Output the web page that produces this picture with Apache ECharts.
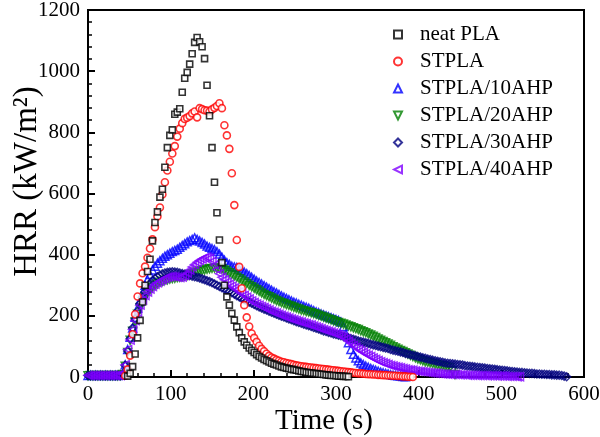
<!DOCTYPE html>
<html>
<head>
<meta charset="utf-8">
<script src="https://cdn.jsdelivr.net/npm/echarts@6/dist/echarts.min.js"></script>
<style>
html, body { margin: 0; padding: 0; background: #fff; }
#main { width: 600px; height: 437px; }
</style>
</head>
<body>
<div id="main"></div>
<script>
// series names (legend order)
var names = ['neat PLA', 'STPLA', 'STPLA/10AHP', 'STPLA/20AHP', 'STPLA/30AHP', 'STPLA/40AHP'];

// HRR readings, one value every 3 s starting at the given time
var neatStart = 48;
var neatHRR = [3, 12, 34, 75, 128, 185, 245, 300, 345, 385, 445, 505, 540, 588, 614, 686, 750, 790, 808, 859,
	866, 877, 931, 977, 996, 1023, 1057, 1094, 1110, 1096, 1080, 1041, 954, 854, 750, 637, 537, 448, 374, 300,
	262, 235, 208, 186, 164, 145, 128, 115, 104, 95, 87, 80, 73, 67, 62, 57, 53, 49, 45, 42,
	39, 36, 33, 31, 29, 27, 25, 24, 22, 20, 18, 17, 15, 14, 13, 12, 11, 10, 9, 8,
	7, 6, 5, 5, 4, 3, 3, 2, 2, 1];

var stplaStart = 45;
var stplaHRR = [4, 25, 70, 140, 205, 263, 306, 339, 361, 390, 420, 450, 490, 525, 554, 597, 637, 675, 704, 731,
	755, 786, 812, 830, 844, 848, 853, 862, 868, 849, 879, 876, 872, 871, 868, 875, 880, 886, 895, 879,
	823, 790, 746, 666, 562, 448, 360, 290, 235, 195, 165, 142, 128, 115, 102, 92, 84, 76, 69, 64,
	60, 56, 53, 50, 48, 46, 44, 42, 40, 38, 37, 35, 34, 33, 32, 31, 30, 29, 28, 27,
	26, 25, 24, 23, 22, 21, 20, 19, 18, 17, 16, 15, 14, 13, 12, 12, 11, 10, 9, 9,
	8, 8, 7, 7, 6, 6, 5, 5, 4, 4, 3, 3, 2, 2, 1, 1, 0];

var ahp10Start = 0;
var ahp10HRR = [5, 6, 5, 6, 5, 6, 5, 6, 5, 6, 5, 6, 5, 6, 10,
	40, 90, 130, 160, 195, 225, 250, 275, 300, 318, 335, 350, 362, 372, 380, 388, 395, 400, 405, 410,
	414, 418, 424, 430, 436, 442, 446, 450, 455, 450, 445, 440, 435, 428, 424, 420, 416, 410, 402, 392,
	382, 374, 368, 362, 360, 358, 353, 348, 343, 338, 332, 326, 320, 314, 309, 304, 299, 294, 289, 284,
	279, 275, 270, 265, 261, 257, 253, 249, 245, 242, 238, 235, 231, 228, 225, 221, 217, 213, 210, 206,
	203, 200, 197, 194, 191, 188, 185, 180, 165, 140, 112, 90, 74, 62, 53, 46, 41, 36, 32, 28,
	25, 22, 19, 16, 14, 12, 10, 8, 6, 5, 4, 3, 2, 1];

var ahp20Start = 0;
var ahp20HRR = [4, 5, 4, 5, 4, 5, 4, 5, 4, 5, 4, 5, 4, 5, 8,
	35, 80, 120, 150, 180, 205, 225, 245, 262, 275, 285, 293, 300, 305, 310, 313, 316, 318, 320, 322,
	323, 325, 326, 328, 330, 332, 335, 338, 340, 343, 346, 348, 350, 352, 354, 355, 356, 356, 355, 353,
	350, 346, 341, 336, 331, 326, 321, 316, 311, 306, 300, 295, 290, 285, 280, 275, 270, 266, 262, 258,
	254, 250, 247, 243, 240, 237, 234, 231, 228, 225, 222, 219, 217, 214, 212, 210, 207, 205, 202, 199,
	196, 193, 190, 187, 184, 181, 178, 176, 173, 170, 167, 164, 161, 158, 155, 151, 148, 145, 141, 137,
	133, 129, 124, 120, 116, 112, 108, 104, 99, 95, 91, 87, 83, 79, 75, 71, 67, 63, 59, 56,
	53, 50, 48, 46, 44, 42, 40, 38, 37, 35, 33, 30, 20, 8];

var ahp30Start = 0;
var ahp30HRR = [5, 4, 5, 4, 5, 4, 5, 4, 5, 4, 5, 4, 5, 4, 9,
	38, 85, 125, 160, 190, 215, 240, 260, 278, 292, 305, 315, 322, 328, 333, 337, 340, 342, 343, 344,
	343, 342, 340, 338, 336, 334, 332, 330, 328, 326, 324, 321, 318, 315, 312, 308, 304, 300, 296, 292,
	288, 284, 280, 276, 271, 266, 262, 257, 253, 249, 245, 241, 237, 233, 229, 226, 222, 219, 215, 212,
	209, 205, 202, 199, 196, 193, 190, 187, 184, 181, 178, 176, 173, 170, 168, 165, 162, 160, 157, 154,
	151, 149, 146, 144, 141, 139, 137, 135, 133, 130, 128, 126, 123, 121, 118, 116, 114, 112, 110, 107,
	105, 103, 101, 99, 97, 95, 93, 90, 88, 86, 84, 82, 80, 77, 75, 73, 71, 69, 67, 65,
	63, 61, 59, 57, 55, 53, 51, 50, 48, 46, 45, 44, 43, 42, 41, 40, 39, 37, 36, 35,
	34, 33, 32, 31, 30, 29, 28, 27, 26, 25, 24, 23, 22, 21, 20, 19, 18, 17, 16, 15,
	15, 14, 13, 12, 12, 11, 10, 10, 9, 9, 8, 8, 7, 7, 6, 6, 5, 3, 1];

var ahp40Start = 0;
var ahp40HRR = [6, 5, 6, 5, 6, 5, 6, 5, 6, 5, 6, 5, 6, 5, 12,
	40, 90, 121, 155, 185, 212, 235, 252, 266, 278, 288, 296, 303, 308, 313, 318, 322, 326, 328, 329,
	328, 326, 325, 327, 332, 340, 350, 360, 368, 375, 381, 386, 390, 392, 388, 378, 366, 352, 338, 326,
	318, 310, 303, 297, 291, 285, 279, 273, 267, 261, 255, 249, 244, 239, 235, 231, 227, 223, 219, 215,
	212, 209, 205, 202, 199, 196, 193, 190, 187, 185, 182, 180, 177, 175, 172, 170, 167, 164, 161, 158,
	155, 152, 150, 147, 144, 141, 138, 135, 130, 124, 117, 110, 103, 97, 91, 86, 81, 76, 71, 67,
	62, 58, 54, 50, 47, 44, 41, 38, 36, 34, 32, 30, 28, 26, 24, 23, 22, 20, 19, 18,
	17, 16, 15, 14, 13, 12, 12, 11, 10, 10, 9, 9, 8, 8, 8, 7, 7, 7, 6, 6,
	6, 6, 5, 5, 5, 5, 4, 4, 4, 4, 3, 3, 3, 3, 2, 2, 2, 2, 1, 1];

var xTicks = [0, 100, 200, 300, 400, 500, 600];
var yTicks = [0, 200, 400, 600, 800, 1000, 1200];

var colors = ['#000000', '#ff0000', '#0000ff', '#008000', '#000080', '#8000ff'];

// time/value pairs for a fixed 3 s sampling
function pairs(start, vals){
	return vals.map(function(v, i){ return [start + i * 3, v]; });
}

var myChart = echarts.init(document.getElementById('main'), null, {renderer: 'canvas'});

var serif = 'Liberation Serif';

function ahpSeries(idx, sym, start, vals, z){
	return {
		name: names[idx],
		type: 'scatter',
		symbol: sym,
		symbolSize: 8,
		z: z,
		data: pairs(start, vals),
		itemStyle: { color: 'rgba(255,255,255,0)', borderColor: colors[idx], borderWidth: 1.5 },
		emphasis: { disabled: true }
	};
}

// tick label, drawn through a rich style so the serif face is kept
var tickLabel = {
	margin: 7,
	formatter: function(v){ return '{t|' + v + '}'; },
	rich: { t: { fontFamily: serif, fontSize: 21, color: '#000' } }
};

var option = {
	animation: false,
	textStyle: { fontFamily: serif, color: '#000' },
	grid: {
		left: 88, right: 16, top: 10, bottom: 60,
		containLabel: false, outerBoundsMode: 'none',
		show: true, borderColor: '#000', borderWidth: 2
	},
	legend: {
		orient: 'vertical',
		left: 393,
		top: 24,
		padding: 0,
		itemGap: 6,
		itemWidth: 8,
		itemHeight: 8,
		data: names,
		textStyle: { fontFamily: serif, fontSize: 21, color: '#000', lineHeight: 21, padding: [0, 0, 0, 13] }
	},
	xAxis: {
		type: 'value',
		min: xTicks[0],
		max: xTicks[xTicks.length - 1],
		interval: 100,
		name: 'Time (s)',
		nameLocation: 'middle',
		nameGap: 30,
		nameMoveOverlap: false,
		nameTextStyle: { fontFamily: serif, fontSize: 29, color: '#000', padding: [0, 24, 0, 0] },
		axisLine: { lineStyle: { color: '#000', width: 2 } },
		axisTick: { inside: true, length: 7, lineStyle: { width: 2 } },
		minorTick: { show: true, splitNumber: 5, length: 4, lineStyle: { color: '#000', width: 1.5 } },
		splitLine: { show: false },
		axisLabel: tickLabel
	},
	yAxis: {
		type: 'value',
		min: yTicks[0],
		max: yTicks[yTicks.length - 1],
		interval: 200,
		name: 'HRR (kW/m²)',
		nameLocation: 'middle',
		nameGap: 44,
		nameMoveOverlap: false,
		nameTextStyle: { fontFamily: serif, fontSize: 33, color: '#000', padding: [0, 0, 0, 24] },
		axisLine: { lineStyle: { color: '#000', width: 2 } },
		axisTick: { inside: true, length: 7, lineStyle: { width: 2 } },
		minorTick: { show: true, splitNumber: 5, length: 4, lineStyle: { color: '#000', width: 1.5 } },
		splitLine: { show: false },
		axisLabel: { margin: 8, formatter: tickLabel.formatter, rich: tickLabel.rich }
	},
	series: [
		{
			name: names[0], type: 'scatter', symbol: 'rect', symbolSize: 6, z: 8,
			data: pairs(neatStart, neatHRR),
			itemStyle: { color: '#fff', borderColor: colors[0], borderWidth: 1.6 },
			emphasis: { disabled: true }
		},
		{
			name: names[1], type: 'scatter', symbol: 'circle', symbolSize: 7, z: 7,
			data: pairs(stplaStart, stplaHRR),
			itemStyle: { color: '#fff', borderColor: colors[1], borderWidth: 1.6 },
			emphasis: { disabled: true }
		},
		ahpSeries(2, 'triangle', ahp10Start, ahp10HRR, 3),
		ahpSeries(3, 'path://M0,0 L10,0 L5,10 Z', ahp20Start, ahp20HRR, 4),
		ahpSeries(4, 'diamond', ahp30Start, ahp30HRR, 5),
		ahpSeries(5, 'path://M10,0 L10,10 L0,5 Z', ahp40Start, ahp40HRR, 6)
	]
};

myChart.setOption(option);
</script>
</body>
</html>
